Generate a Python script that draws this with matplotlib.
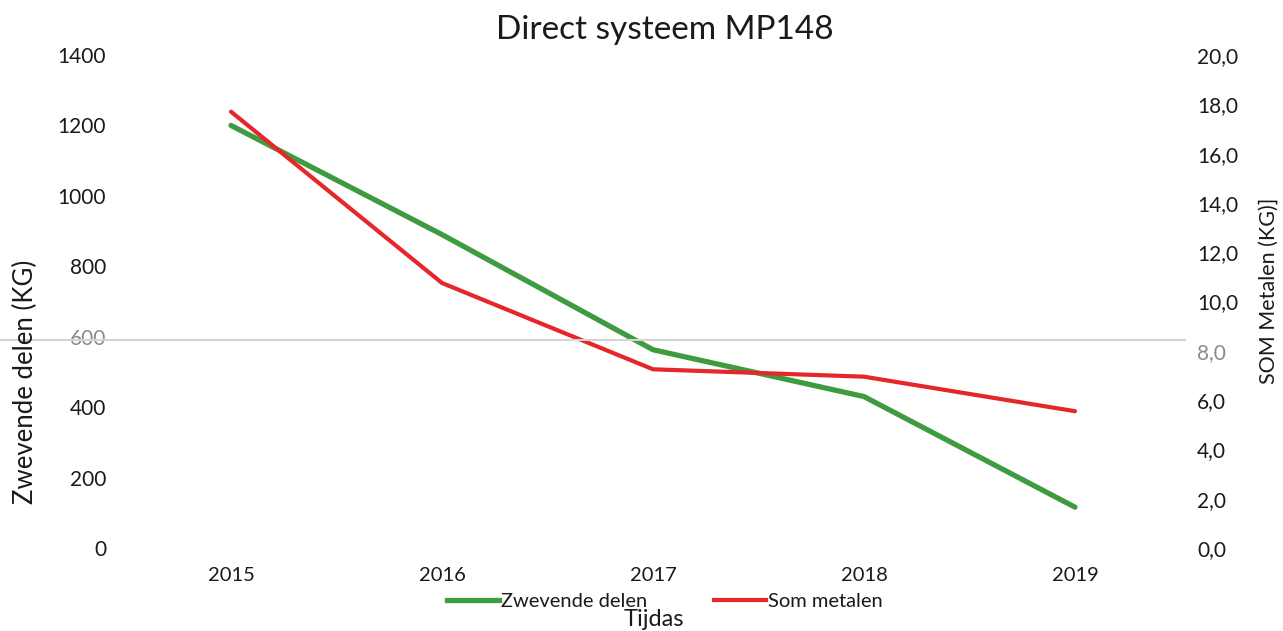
import matplotlib
matplotlib.use("Agg")
import matplotlib.pyplot as plt
from matplotlib.lines import Line2D
from matplotlib.ticker import FuncFormatter

plt.rcParams["font.family"] = ["Lato", "DejaVu Sans"]

years = ["2015", "2016", "2017", "2018", "2019"]
zwevende_delen = [1200, 890, 563, 430, 116]     # kg, linker as
som_metalen = [17.7, 10.75, 7.25, 6.95, 5.55]   # kg, rechter as

GREEN = "#3f9b3f"
RED = "#e5262b"
TXT = "#1a1a1a"

W, H = 1283, 631
fig = plt.figure(figsize=(W / 100, H / 100), dpi=100)
ax = fig.add_axes([125.5 / W, 1 - 548 / H, (1180.5 - 125.5) / W, (548 - 55) / H])
ax2 = ax.twinx()

x = range(len(years))
ax.plot(x, zwevende_delen, color=GREEN, lw=3.8, solid_capstyle="round", zorder=3)
ax2.plot(x, som_metalen, color=RED, lw=3.0, solid_capstyle="round", zorder=3)

ax.set_xlim(-0.5, len(years) - 0.5)
ax.set_ylim(0, 1400)
ax2.set_ylim(0, 20)
ax.set_yticks(range(0, 1401, 200))
ax2.set_yticks(range(0, 21, 2))
ax2.yaxis.set_major_formatter(FuncFormatter(lambda v, _: f"{v:.1f}".replace(".", ",")))
ax.set_xticks(list(x))
ax.set_xticklabels(years)

for a in (ax, ax2):
    for s in a.spines.values():
        s.set_visible(False)
    a.tick_params(length=0, labelsize=15, colors=TXT)
ax.tick_params(axis="x", labelsize=14.5, pad=14)
ax.tick_params(axis="y", pad=14)
ax2.tick_params(axis="y", pad=12)

# vervaagde labels bij de grijze lijn
for lab in ax.get_yticklabels():
    if lab.get_text() == "600":
        lab.set_color("#8a8a8a")
for lab in ax2.get_yticklabels():
    if lab.get_text() == "8,0":
        lab.set_color("#8a8a8a")

# dunne grijze lijn over de hele breedte
fig.add_artist(Line2D([0, 1185 / W], [1 - 340 / H, 1 - 340 / H],
                      transform=fig.transFigure, color="#d4d4d4", lw=1.5, zorder=1))

fig.text(665 / W, 1 - 30 / H, "Direct systeem MP148", ha="center", va="center",
         fontsize=24, color=TXT)
fig.text(25 / W, 1 - 382 / H, "Zwevende delen (KG)", rotation=90, ha="center",
         va="center", fontsize=18.5, color=TXT)
fig.text(1269 / W, 1 - 291 / H, "SOM Metalen (KG)]", rotation=90, ha="center",
         va="center", fontsize=15.5, color=TXT)
fig.text(654 / W, 1 - 620 / H, "Tijdas", ha="center", va="center",
         fontsize=17, color=TXT)

handles = [Line2D([], [], color=GREEN, lw=3.8), Line2D([], [], color=RED, lw=3.0)]
fig.legend(handles, ["Zwevende delen", "Som metalen"], loc="center left",
           bbox_to_anchor=(447 / W, 1 - 601 / H), ncol=2, frameon=False,
           fontsize=14.5, handlelength=2.6, handletextpad=0.1, columnspacing=3.3,
           labelcolor=TXT, borderpad=0, borderaxespad=0)

fig.savefig("out.png", dpi=100)
